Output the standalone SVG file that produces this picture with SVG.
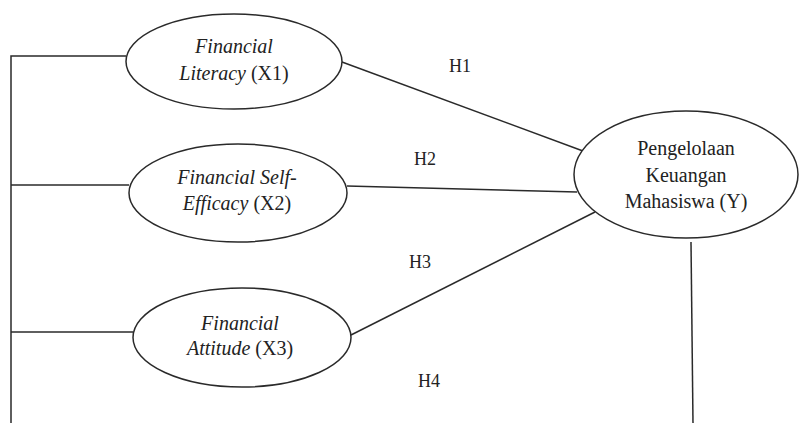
<svg xmlns="http://www.w3.org/2000/svg" width="799" height="423" viewBox="0 0 799 423">
<style>
.n{fill:#fff;stroke:#2a2a2a;stroke-width:1.5}
.c{fill:none;stroke:#2a2a2a;stroke-width:1.5}
text{font-family:'Times New Roman',Times,'Liberation Serif',Tinos,'Noto Serif','DejaVu Serif',serif;font-size:20px;fill:#222;text-anchor:middle}
.i{font-style:italic}
.h{font-size:18px}
</style>
<rect width="799" height="423" fill="#fff"/>
<g id="connectors">
<polyline class="c" points="126,56 11,56 11,423"/>
<line class="c" x1="11" y1="185" x2="129" y2="185"/>
<line class="c" x1="11" y1="332" x2="133" y2="332"/>
<line class="c" x1="342" y1="62" x2="583" y2="151"/>
<line class="c" x1="347" y1="186" x2="577" y2="192"/>
<line class="c" x1="351" y1="335" x2="595" y2="212"/>
<line class="c" x1="691" y1="242" x2="693" y2="423"/>
<text class="h" x="460" y="72">H1</text>
<text class="h" x="425" y="165">H2</text>
<text class="h" x="420" y="268">H3</text>
<text class="h" x="429" y="387">H4</text>
</g>
<g id="x1">
<ellipse class="n" cx="234" cy="61.5" rx="108" ry="47.5"/>
<text x="234" y="53" class="i">Financial</text>
<text x="234" y="80"><tspan class="i">Literacy</tspan> (X1)</text>
</g>
<g id="x2">
<ellipse class="n" cx="238" cy="193" rx="109" ry="49"/>
<text x="237" y="184" class="i">Financial Self-</text>
<text x="237" y="210"><tspan class="i">Efficacy</tspan> (X2)</text>
</g>
<g id="x3">
<ellipse class="n" cx="242" cy="337.5" rx="109" ry="49.5"/>
<text x="240" y="330" class="i">Financial</text>
<text x="240" y="355"><tspan class="i">Attitude</tspan> (X3)</text>
</g>
<g id="y">
<ellipse class="n" cx="686" cy="174.5" rx="112" ry="63.5"/>
<text x="686" y="155">Pengelolaan</text>
<text x="686" y="181.5">Keuangan</text>
<text x="686" y="208">Mahasiswa (Y)</text>
</g>
</svg>
